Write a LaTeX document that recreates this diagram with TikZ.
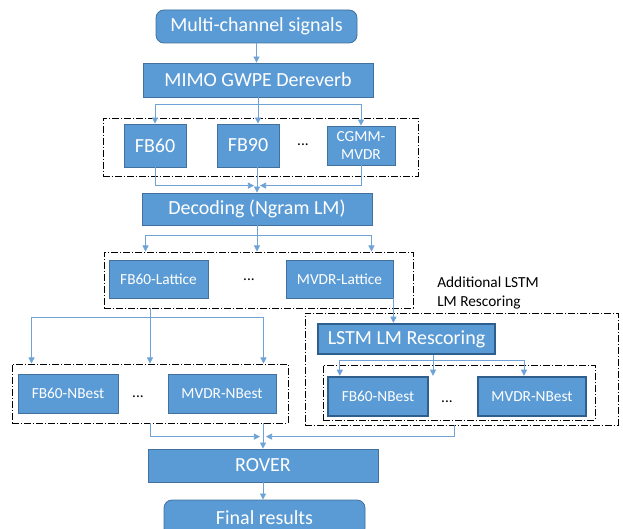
\documentclass[tikz,border=0pt]{standalone}
\usepackage{fontspec}
\setmainfont{Carlito}
\usepackage{xcolor}
\usepackage{tikz}
\usetikzlibrary{calc,arrows.meta}
\definecolor{bluefill}{HTML}{5B9BD5}
\definecolor{blueline}{HTML}{41719C}
\definecolor{bluedark}{HTML}{2F5F8C}
\definecolor{wire}{HTML}{6FA3D6}
\tikzset{
  ar/.style={-{Triangle[length=1.6mm,width=1.6mm]},wire,line width=0.6pt},
  ln/.style={wire,line width=0.6pt},
  box/.style={draw=blueline,line width=0.6pt,fill=bluefill,text=white,inner sep=0pt,align=center,font=\fontsize{15}{18}\selectfont},
  small/.style={font=\fontsize{11.5}{14}\selectfont},
  heavy/.style={draw=bluedark,line width=1.8pt},
  grp/.style={draw=black,line width=0.7pt,dash pattern=on 5pt off 1.5pt on 1pt off 1.5pt},
  wh/.style 2 args={minimum width=#1*0.75pt,minimum height=#2*0.75pt}
}
\begin{document}
\begin{tikzpicture}[x=0.75pt,y=-0.75pt]
\useasboundingbox (0,0) rectangle (623,528);
\node[grp,wh={315}{58}] (grpA) at (260.5,147) {};
\node[grp,wh={309}{56}] (grpB) at (258.5,280) {};
\node[grp,wh={276}{59}] (grpC) at (150,393.5) {};
\node[grp,wh={313}{112}] (grpD) at (461.5,369) {};
\node[grp,wh={272}{55}] (grpE) at (459,392.5) {};
\node[box,rounded corners=6pt,wh={201}{33}] (sig) at (256.5,26.5) {Multi-channel signals};
\node[box,wh={230}{34}] (gwpe) at (258,80) {MIMO GWPE Dereverb};
\node[box,wh={62}{43}] (fbsixty) at (155,145.5) {FB60};
\node[box,wh={62}{43}] (fbninety) at (248,145.5) {FB90};
\node[small] (dotsA) at (303,145) {...};
\node[box,small,wh={68}{39}] (cgmm) at (361,145.5) {CGMM-\\MVDR};
\node[box,wh={230}{32}] (dec) at (257,209) {Decoding (Ngram LM)};
\node[box,small,wh={99}{38}] (latA) at (158.5,279) {FB60-Lattice};
\node[small] (dotsB) at (249,280) {...};
\node[box,small,wh={107}{38}] (latB) at (339.5,279) {MVDR-Lattice};
\node[box,small,wh={100}{39}] (nbA) at (68,393.5) {FB60-NBest};
\node[small] (dotsC) at (138,397) {...};
\node[box,small,wh={108}{39}] (nbB) at (222,393.5) {MVDR-NBest};
\node[small,anchor=north west,align=left,inner sep=0pt] (note) at (437,277) {Additional LSTM\\LM Rescoring};
\node[box,heavy,wh={177}{30}] (lstm) at (406.5,339) {LSTM LM Rescoring};
\node[box,heavy,small,wh={100}{39}] (nbC) at (378,396.5) {FB60-NBest};
\node[small] (dotsE) at (447,402) {...};
\node[box,heavy,small,wh={108}{39}] (nbD) at (532,396.5) {MVDR-NBest};
\node[box,wh={230}{33}] (rover) at (263,465.5) {ROVER};
\node[box,rounded corners=6pt,wh={201}{36}] (final) at (264.5,518) {Final results};
\draw[ar] (sig.south) -- (sig.south |- gwpe.north);
\draw[ln] (gwpe.south) -- ++(0,7) coordinate (splitA);
\draw[ar] (splitA) -| (fbsixty.north);
\draw[ar] (splitA) -- (splitA |- fbninety.north);
\draw[ar] (splitA) -| (cgmm.north);
\draw[ar] (fbsixty.south) |- ($(dec.north)+(-3,-7)$);
\draw[ar] (cgmm.south) |- ($(dec.north)+(3,-7)$);
\draw[ar] (fbninety.south -| dec.north) -- (dec.north);
\draw[ln] (dec.south) -- ++(0,10) coordinate (splitB);
\draw[ar] (splitB) -| ($(grpB.north west)+(42,0)$);
\draw[ar] (splitB) -- (splitB |- grpB.north);
\draw[ar] (splitB) -| ($(grpB.north east)+(-42,0)$);
\draw[ln] (grpC.north |- grpB.south) -- ++(0,9) coordinate (splitC);
\draw[ar] (splitC) -- (grpC.north);
\draw[ar] (splitC) -| ($(grpC.north west)+(20,0)$);
\draw[ar] (splitC) -| ($(grpC.north east)+(-25,0)$);
\draw[ar] (latB.south east) -- (latB.south east |- lstm.north);
\draw[ln] ($(lstm.south)+(26.5,0)$) -- ++(0,5) coordinate (splitD);
\draw[ar] (splitD) -- (splitD |- nbC.north);
\draw[ar] (splitD) -| ($(nbC.north west)+(13,0)$);
\draw[ar] (splitD) -| ($(nbD.north)+(-8,0)$);
\draw[ar] (grpC.south) |- ($(rover.north)+(-3,-12)$);
\draw[ar] (grpC.south east -| rover.north) -- (rover.north);
\draw[ar] ($(grpD.south)+(-7,0)$) |- ($(rover.north)+(3,-12)$);
\draw[ar] (rover.south) -- (rover.south |- final.north);
\end{tikzpicture}
\end{document}
